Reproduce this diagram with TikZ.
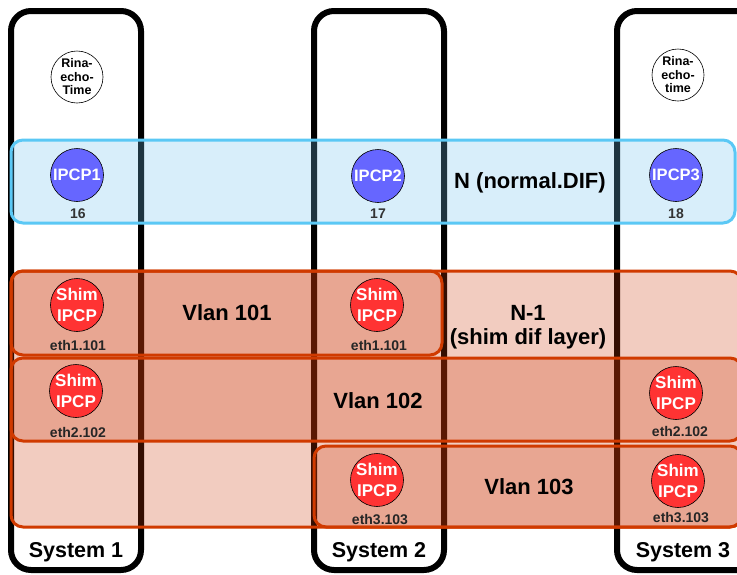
\documentclass[tikz,border=0pt]{standalone}
\usepackage{fontspec}
\setmainfont{Liberation Sans}
\definecolor{nfill}{RGB}{111,193,237}
\definecolor{nline}{HTML}{5BC8F5}
\definecolor{shfill}{RGB}{204,55,8}
\definecolor{shline}{HTML}{D03A00}
\definecolor{ipcpblue}{HTML}{6666FF}
\definecolor{shimred}{HTML}{FF3333}
\definecolor{lblgray}{HTML}{333333}
\begin{document}
\begin{tikzpicture}[x=1pt,y=-1pt,
  sysbox/.style={draw=black,line width=6pt,rounded corners=20pt},
  nlayer/.style={draw=nline,line width=3pt,fill=nfill,fill opacity=0.27,rounded corners=12pt},
  shlayer/.style={draw=shline,line width=3pt,fill=shfill,fill opacity=0.255,rounded corners=12pt},
  echo/.style={circle,draw=black,line width=0.6pt,fill=white,minimum size=52pt,inner sep=0pt,align=center,font=\fontsize{12.5}{13.5}\selectfont\bfseries},
  ipcp/.style={circle,draw=black,line width=0.6pt,fill=ipcpblue,minimum size=53pt,inner sep=0pt,text=white,font=\fontsize{16.5}{18}\selectfont\bfseries},
  shim/.style={circle,draw=black,line width=0.6pt,fill=shimred,minimum size=53pt,inner sep=0pt,align=center,text=white,font=\fontsize{17}{20.5}\selectfont\bfseries},
  idlbl/.style={text=lblgray,font=\fontsize{14}{16}\selectfont\bfseries},
  ethlbl/.style={text=black!85,font=\fontsize{14}{16}\selectfont\bfseries},
  biglbl/.style={font=\fontsize{22}{24}\selectfont\bfseries,align=center},
  syslbl/.style={font=\fontsize{21.5}{23}\selectfont\bfseries}]
\useasboundingbox (0,0) rectangle (737,574);
\clip (0,0) rectangle (737,574);
% systems
\draw[sysbox] (11,11) rectangle (141,570);
\draw[sysbox] (314,11) rectangle (444,570);
\draw[sysbox] (617,11) rectangle (760,570);
% N layer
\draw[nlayer] (11,140) rectangle (735,223);
% N-1 layer
\draw[shlayer] (11,271) rectangle (742,527);
\draw[shlayer] (11,271) rectangle (442,355);
\draw[shlayer] (11,358) rectangle (742,441);
\draw[shlayer] (314,446) rectangle (742,527);
% nodes
\node[echo] (echo1) at (77,77) {Rina-\\echo-\\Time};
\node[echo] (echo3) at (678,75) {Rina-\\echo-\\time};
\node[ipcp] (ipcp1) at (77,175) {IPCP1};
\node[ipcp] (ipcp2) at (378,176) {IPCP2};
\node[ipcp] (ipcp3) at (676,175) {IPCP3};
\node[idlbl] (l16) at (78,214) {16};
\node[idlbl] (l17) at (378,214) {17};
\node[idlbl] (l18) at (676,214) {18};
\node[biglbl] (ndif) at (530,183) {N (normal.DIF)};
\node[shim] (s11) at (77,305) {Shim\\IPCP};
\node[shim] (s21) at (377,305) {Shim\\IPCP};
\node[shim] (s12) at (76,391) {Shim\\IPCP};
\node[shim] (s32) at (676,393) {Shim\\IPCP};
\node[shim] (s23) at (377,480) {Shim\\IPCP};
\node[shim] (s33) at (678,481) {Shim\\IPCP};
\node[ethlbl] (e11) at (78,345) {eth1.101};
\node[ethlbl] (e21) at (379,345) {eth1.101};
\node[ethlbl] (e12) at (78,432) {eth2.102};
\node[ethlbl] (e32) at (680,431) {eth2.102};
\node[ethlbl] (e23) at (380,519) {eth3.103};
\node[ethlbl] (e33) at (681,517) {eth3.103};
\node[biglbl] (v101) at (227,313) {Vlan 101};
\node[biglbl] (v102) at (378,401) {Vlan 102};
\node[biglbl] (v103) at (529,487) {Vlan 103};
\node[biglbl] (nm1) at (528,327) {N-1\\(shim dif layer)};
\node[syslbl] (sys1) at (76,552) {System 1};
\node[syslbl] (sys2) at (379,552) {System 2};
\node[syslbl] (sys3) at (683,552) {System 3};
\end{tikzpicture}
\end{document}
